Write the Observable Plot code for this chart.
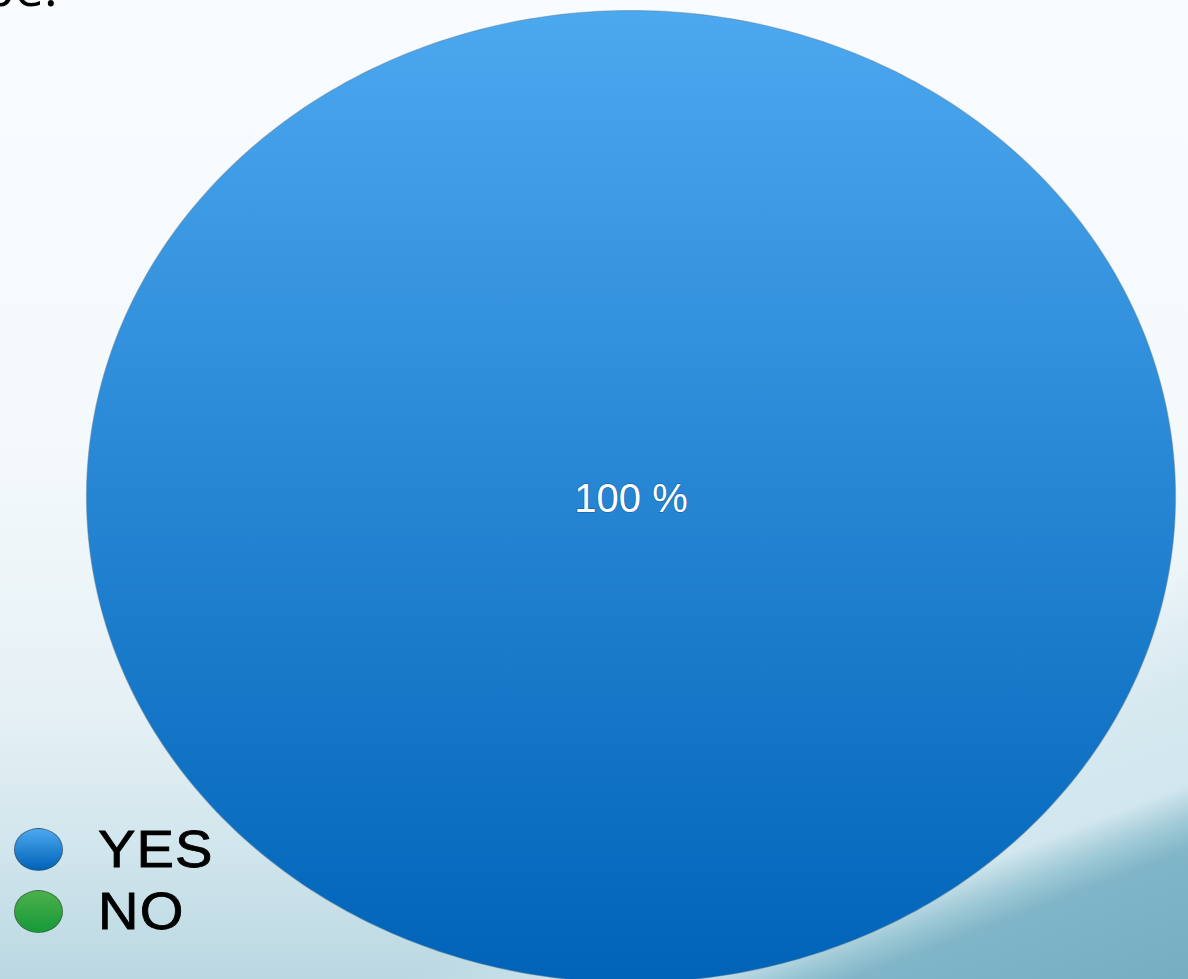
<!DOCTYPE html>
<html>
<head>
<meta charset="utf-8">
<script src="https://cdn.jsdelivr.net/npm/d3@7"></script>
<script src="https://cdn.jsdelivr.net/npm/@observablehq/plot@0.6"></script>
<style>
  html, body { margin: 0; padding: 0; width: 1188px; height: 979px; overflow: hidden; }
  body {
    position: relative;
    font-family: "Liberation Sans", Arial, sans-serif;
    background:
      linear-gradient(159deg, rgba(125,181,199,0) 86.5%, rgba(150,196,210,0.85) 89%, #80b6c8 91%, #76adc1 100%),
      linear-gradient(152deg, rgba(215,234,240,0) 74%, rgba(212,232,239,0.9) 82%, rgba(200,225,233,0.9) 100%),
      linear-gradient(to bottom, #f9fcfe 0%, #f4f9fc 45%, #e6f1f5 72%, #d2e6ed 86%, #bad8e2 100%);
  }
  #title { position: absolute; left: -17px; top: -50px; font-family: "Open Sans", sans-serif; font-size: 52px; color: #000; }
  #chart { position: absolute; left: 0; top: 0; }
  #legend { position: absolute; left: 14px; top: 818px; }
  .item { display: flex; align-items: center; height: 62px; }
  .sw { width: 47px; height: 41px; border-radius: 50%; margin-right: 35px; border: 1px solid rgba(70,70,70,0.55); }
  .lab { font-size: 52px; color: #000; letter-spacing: 1px; transform: scaleX(1.08); transform-origin: left center; -webkit-text-stroke: 0.8px #000; }
</style>
</head>
<body>
<div id="title">pe:</div>
<div id="chart"></div>
<div id="legend"></div>
<script>
const categories = ["YES", "NO"];
const values = [100, 0];
const labels = ["100 %", "0 %"];
const topColors = ["#4ca8ef", "#4cb04c"];
const bottomColors = ["#0063b8", "#169a38"];

const arcs = d3.pie().sort(null)(values);
const slicePoints = [];
arcs.forEach((a, i) => {
  if (a.endAngle - a.startAngle <= 0) return;
  const full = a.endAngle - a.startAngle >= 2 * Math.PI - 1e-9;
  if (!full) slicePoints.push({cat: categories[i], k: i, x: 0, y: 0});
  const n = 400;
  for (let j = 0; j <= n; j++) {
    const t = a.startAngle + (a.endAngle - a.startAngle) * j / n;
    slicePoints.push({cat: categories[i], k: i, x: Math.sin(t), y: Math.cos(t)});
  }
});
const labelData = arcs.filter(a => a.value > 0).map(a => {
  const full = a.endAngle - a.startAngle >= 2 * Math.PI - 1e-9;
  const m = (a.startAngle + a.endAngle) / 2;
  const r = full ? 0 : 0.6;
  return {x: r * Math.sin(m), y: r * Math.cos(m), text: labels[a.index]};
});

const defs = () => {
  const svgNS = "http://www.w3.org/2000/svg";
  const d = document.createElementNS(svgNS, "defs");
  categories.forEach((c, i) => {
    const g = document.createElementNS(svgNS, "linearGradient");
    g.setAttribute("id", "grad" + i);
    g.setAttribute("x1", "0"); g.setAttribute("y1", "0");
    g.setAttribute("x2", "0"); g.setAttribute("y2", "1");
    const s1 = document.createElementNS(svgNS, "stop");
    s1.setAttribute("offset", "0"); s1.setAttribute("stop-color", topColors[i]);
    const s2 = document.createElementNS(svgNS, "stop");
    s2.setAttribute("offset", "1"); s2.setAttribute("stop-color", bottomColors[i]);
    g.appendChild(s1); g.appendChild(s2);
    d.appendChild(g);
  });
  return d;
};

const chart = Plot.plot({
  width: 1188,
  height: 979,
  style: {background: "transparent", overflow: "visible"},
  x: {domain: [-1, 1], range: [86, 1175], axis: null},
  y: {domain: [-1, 1], range: [982, 10], axis: null},
  marks: [
    defs,
    Plot.line(slicePoints, {
      x: "x", y: "y", z: "cat",
      fill: d => `url(#grad${d.k})`,
      stroke: "#5d7f96", strokeOpacity: 0.45, strokeWidth: 1.2,
      curve: "linear"
    }),
    Plot.text(labelData, {
      x: "x", y: "y", text: "text",
      fill: "white", fontSize: 40, dy: 3,
      fontFamily: "Liberation Sans",
      stroke: "#0a3a66", strokeWidth: 1.5, strokeOpacity: 0.4,
      paintOrder: "stroke"
    })
  ]
});
document.getElementById("chart").appendChild(chart);

const legend = document.getElementById("legend");
categories.forEach((c, i) => {
  const it = document.createElement("div");
  it.className = "item";
  const sw = document.createElement("div");
  sw.className = "sw";
  sw.style.background = `linear-gradient(to bottom, ${topColors[i]}, ${bottomColors[i]})`;
  const lab = document.createElement("div");
  lab.className = "lab";
  lab.textContent = c;
  it.appendChild(sw); it.appendChild(lab);
  legend.appendChild(it);
});
</script>
</body>
</html>
